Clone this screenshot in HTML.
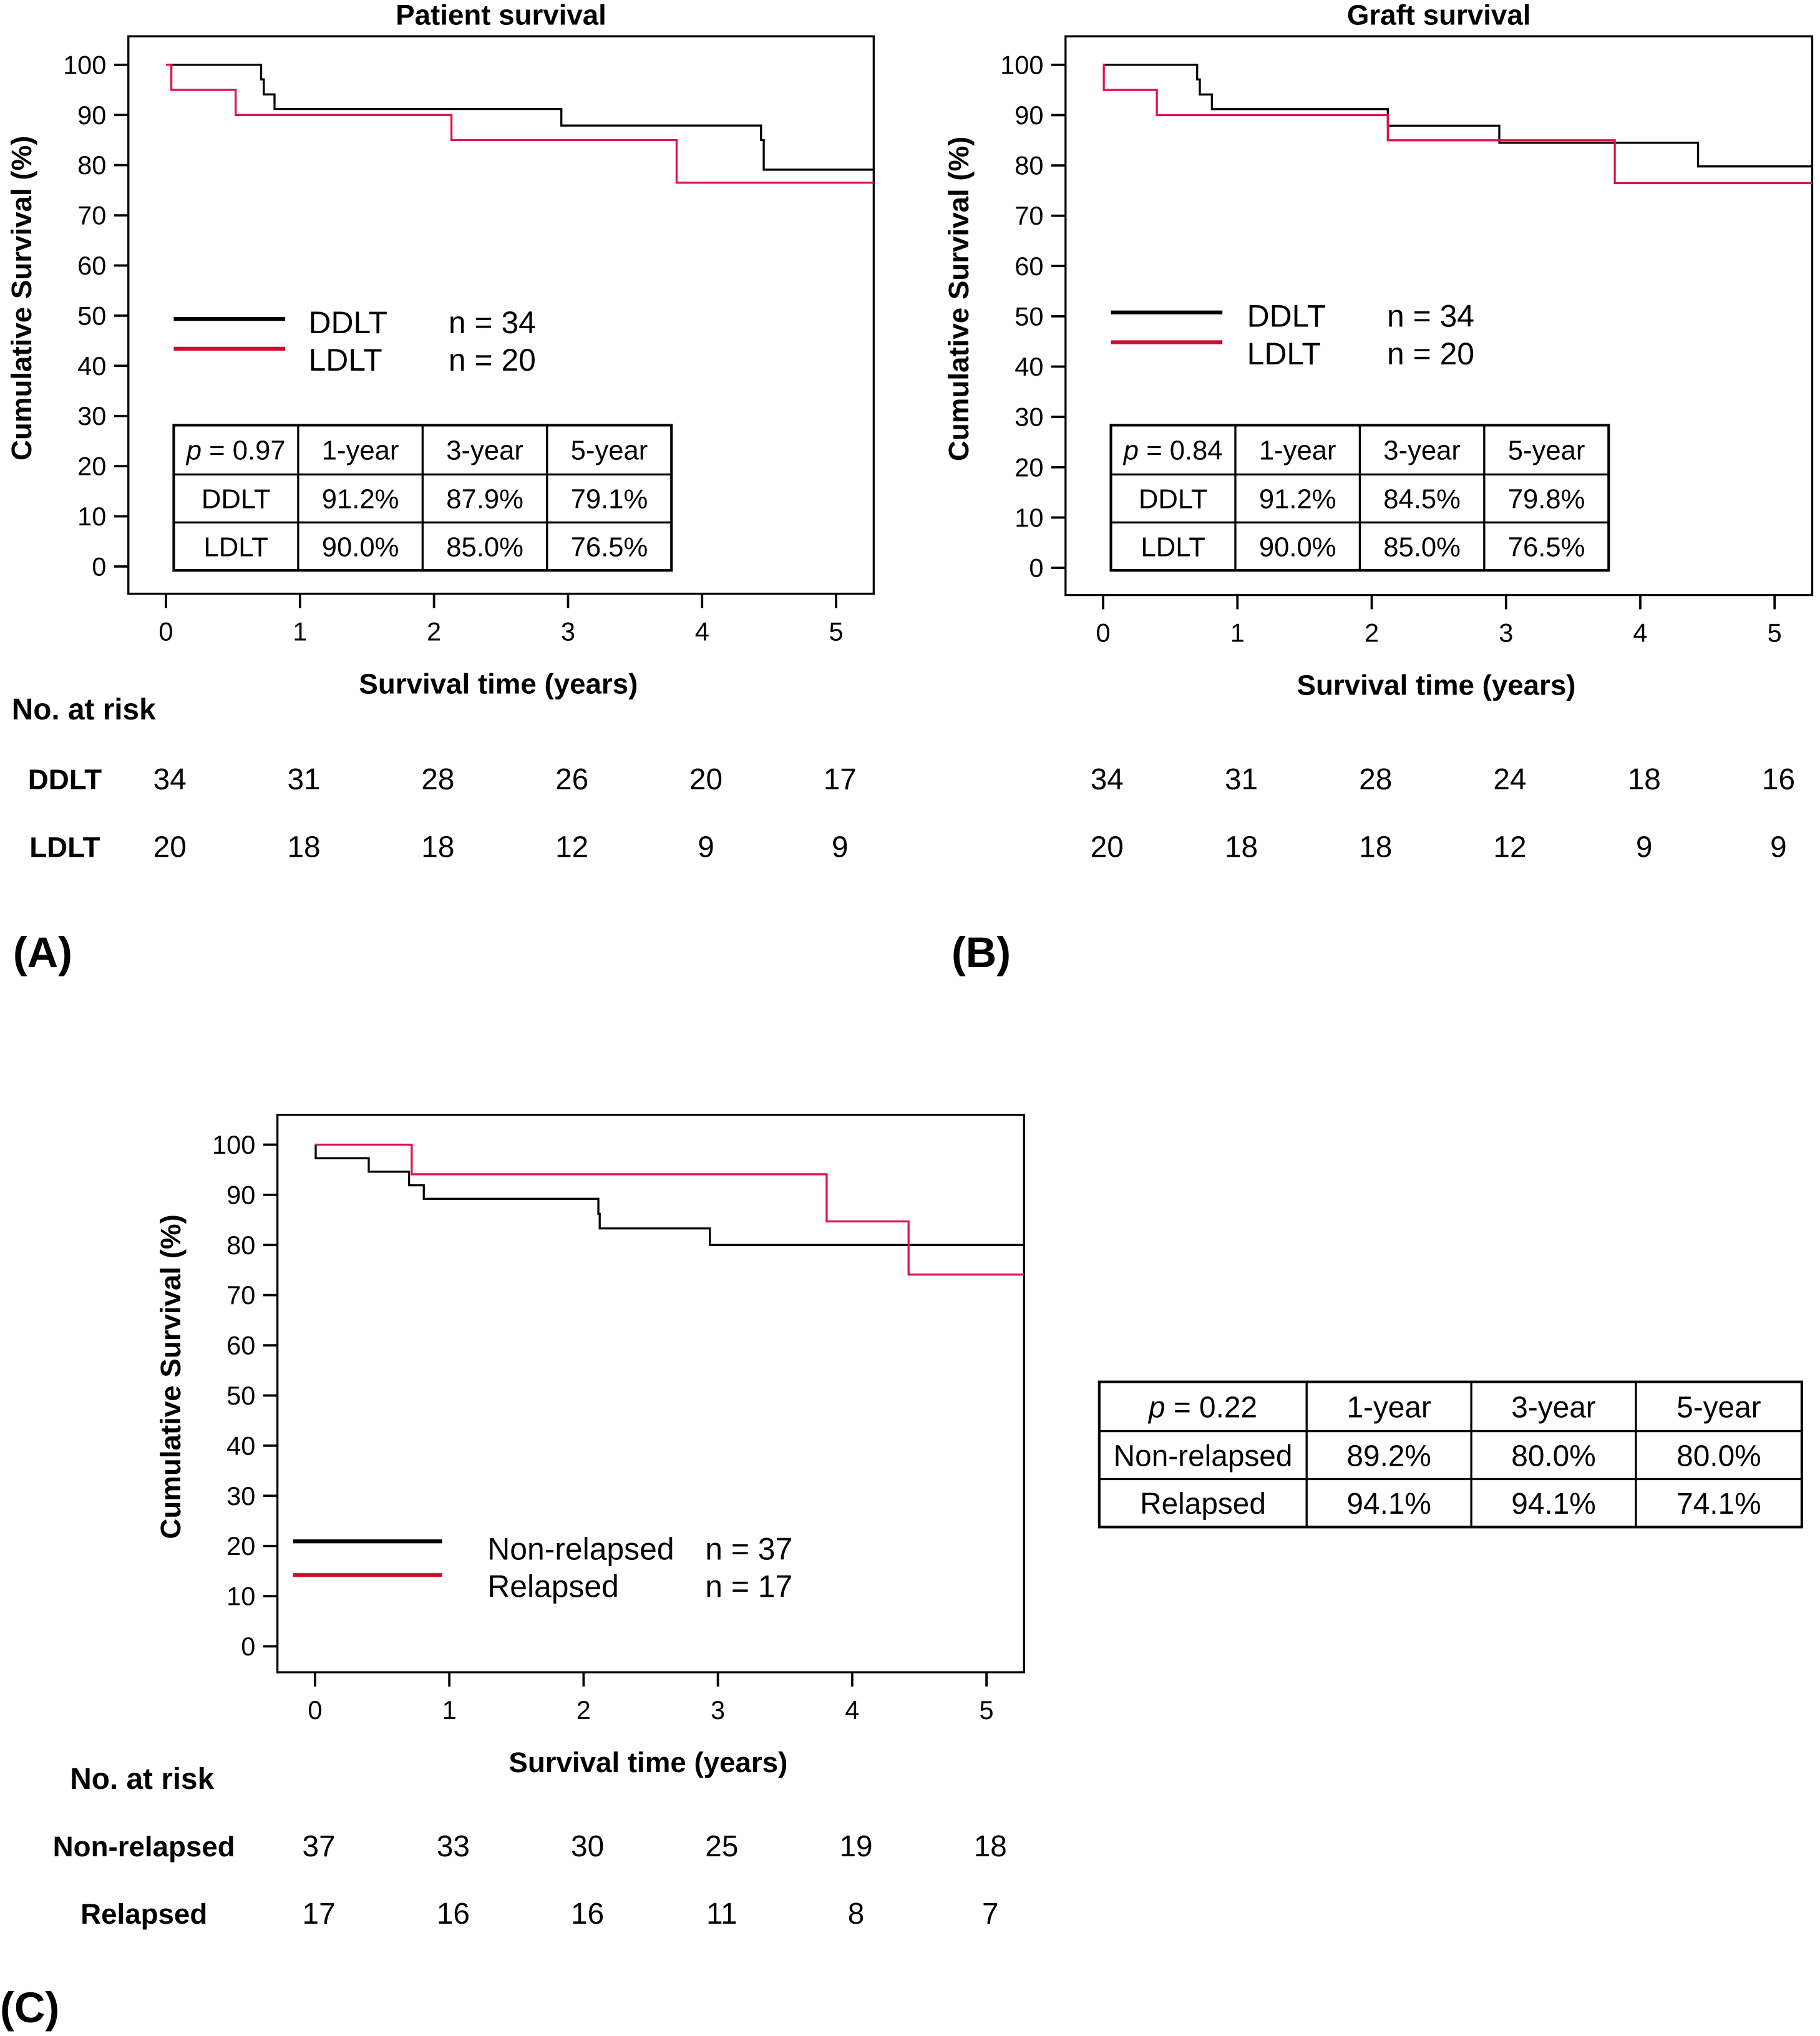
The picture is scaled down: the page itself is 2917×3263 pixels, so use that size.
<!DOCTYPE html>
<html><head><meta charset="utf-8"><style>
html,body{margin:0;padding:0;background:#fff;}
svg{display:block;font-family:"Liberation Sans",sans-serif;}
</style></head><body>
<svg id="fig" width="2917" height="3263" viewBox="0 0 1404 1570.6" xmlns="http://www.w3.org/2000/svg"></svg>
<script>
// ---- Data ----
// Panel A: patient survival (steps: [time, survival])
const aDdltTimes = [0, 0.71, 0.73, 0.81, 2.95, 4.44, 4.46];
const aDdltSurv  = [100, 97.1, 94.1, 91.2, 87.9, 85.0, 79.1];
const aLdltTimes = [0, 0.04, 0.52, 2.13, 3.81];
const aLdltSurv  = [100, 95, 90, 85, 76.5];
// Panel B: graft survival
const bDdltTimes = [0, 0.70, 0.72, 0.81, 2.12, 2.95, 4.43];
const bDdltSurv  = [100, 97.1, 94.1, 91.2, 87.9, 84.5, 79.8];
const bLdltTimes = [0, 0.005, 0.40, 2.12, 3.81];
const bLdltSurv  = [100, 95, 90, 85, 76.5];
// Panel C: relapse
const cNonTimes = [0, 0.005, 0.40, 0.70, 0.81, 2.11, 2.12, 2.94];
const cNonSurv  = [100, 97.3, 94.6, 91.9, 89.2, 86.2, 83.3, 80.0];
const cRelTimes = [0, 0.72, 3.81, 4.42];
const cRelSurv  = [100, 94.1, 84.7, 74.1];

const xTicks = [0,1,2,3,4,5];
const yTicks = [0,10,20,30,40,50,60,70,80,90,100];

const riskA1 = [34,31,28,26,20,17];
const riskA2 = [20,18,18,12,9,9];
const riskB1 = [34,31,28,24,18,16];
const riskB2 = [20,18,18,12,9,9];
const riskC1 = [37,33,30,25,19,18];
const riskC2 = [17,16,16,11,8,7];

const tableAHead = ["1-year","3-year","5-year"];
const tableARows = [["DDLT","91.2%","87.9%","79.1%"],["LDLT","90.0%","85.0%","76.5%"]];
const tableBRows = [["DDLT","91.2%","84.5%","79.8%"],["LDLT","90.0%","85.0%","76.5%"]];
const tableCRows = [["Non-relapsed","89.2%","80.0%","80.0%"],["Relapsed","94.1%","94.1%","74.1%"]];

const NS="http://www.w3.org/2000/svg";
const svg=document.getElementById('fig');
function el(tag,attrs,parent,text){const e=document.createElementNS(NS,tag);for(const k in attrs)e.setAttribute(k,attrs[k]);if(text!==undefined)e.textContent=text;(parent||svg).appendChild(e);return e;}
function txt(x,y,s,size,opts,parent){opts=opts||{};return el('text',Object.assign({x:x,y:y,'font-size':size,'text-anchor':opts.anchor||'middle','font-weight':opts.bold?'bold':'normal',fill:'#000'},opts.extra||{}),parent,s);}

function panel(cfg){
  const g=el('g',{});
  
  
  const X=t=>cfg.x0+t*(cfg.x5-cfg.x0)/5;
  const Y=v=>cfg.y0-v*(cfg.y0-cfg.y100)/100;
  const fr=el('rect',{x:cfg.fx,y:cfg.fy,width:cfg.fw,height:cfg.fh,fill:'none',stroke:'#000','stroke-width':1.6},g);
  
  
  if(cfg.title){const t=txt(cfg.fx+cfg.fw/2,19,cfg.title,22,{bold:true},g);}
  yTicks.forEach(v=>{
    el('line',{x1:cfg.fx-11,x2:cfg.fx,y1:Y(v),y2:Y(v),stroke:'#000','stroke-width':1.8},g);
    const t=txt(cfg.fx-17,Y(v)+7,String(v),20,{anchor:'end'},g);
    
  });
  xTicks.forEach(v=>{
    el('line',{x1:X(v),x2:X(v),y1:cfg.fy+cfg.fh,y2:cfg.fy+cfg.fh+11,stroke:'#000','stroke-width':1.8},g);
    const t=txt(X(v),cfg.fy+cfg.fh+36,String(v),20,{},g);
    
  });
  const xt=txt(cfg.fx+cfg.fw/2-2,cfg.fy+cfg.fh+77,'Survival time (years)',22,{bold:true},g);
  
  const yx=cfg.fx-75, yy=cfg.fy+cfg.fh/2-13;
  const yt=txt(yx,yy,'Cumulative Survival (%)',22,{bold:true,extra:{transform:`rotate(-90 ${yx} ${yy})`}},g);
  
  cfg.series.forEach(s=>{
    let d=`M${X(s.t[0])},${Y(s.v[0])}`;
    for(let i=1;i<s.t.length;i++){d+=` H${X(s.t[i])} V${Y(s.v[i])}`;}
    d+=` H${cfg.fx+cfg.fw}`;
    const p=el('path',{d:d,fill:'none',stroke:s.color,'stroke-width':1.6},g);
    
    
  });
  cfg.legend.forEach((L,i)=>{
    const y=cfg.ly+i*cfg.lgap;
    const ty=cfg.ly+cfg.toff+i*cfg.tgap;
    const ln=el('line',{x1:cfg.lx1,x2:cfg.lx2,y1:y,y2:y,stroke:L.color,'stroke-width':3},g);
    
    const a=txt(cfg.ltx,ty,L.label,24,{anchor:'start'},g);
    
    const b=txt(cfg.lnx,ty,L.n,24,{anchor:'start'},g);
    
  });
  return {g,X};
}

function table(x,cols,rows,pval,head,body,fs,name){
  const g=el('g',{});
  
  
  el('rect',{x:cols[0],y:rows[0],width:cols[cols.length-1]-cols[0],height:rows[rows.length-1]-rows[0],fill:'none',stroke:'#000','stroke-width':2},g);
  cols.slice(1,-1).forEach(c=>el('line',{x1:c,x2:c,y1:rows[0],y2:rows[rows.length-1],stroke:'#000','stroke-width':1.6},g));
  rows.slice(1,-1).forEach(r=>el('line',{x1:cols[0],x2:cols[cols.length-1],y1:r,y2:r,stroke:'#000','stroke-width':1.6},g));
  const cx=i=>(cols[i]+cols[i+1])/2, cy=j=>(rows[j]+rows[j+1])/2+fs*0.36;
  const p=el('text',{x:cx(0),y:cy(0),'font-size':fs,'text-anchor':'middle'},g);
  el('tspan',{'font-style':'italic'},p,'p');
  el('tspan',{},p,' = '+pval);
  head.forEach((h,i)=>txt(cx(i+1),cy(0),h,fs,{},g));
  body.forEach((r,j)=>r.forEach((c,i)=>txt(cx(i),cy(j+1),c,fs,{},g)));
}

function risk(X,y1,y2,r1,r2,lab1,lab2,labx,headY,headX){
  const g=el('g',{});
  
  
  if(headY){txt(headX,headY,'No. at risk',23,{bold:true,anchor:'start'},g);}
  if(lab1){txt(labx,y1,lab1,22,{bold:true},g);txt(labx,y2,lab2,22,{bold:true},g);}
  r1.forEach((v,i)=>txt(X(xTicks[i])+3,y1,String(v),23,{},g));
  r2.forEach((v,i)=>txt(X(xTicks[i])+3,y2,String(v),23,{},g));
}

const A=panel({name:'panel-a-patient-survival',title:'Patient survival',fx:99,fy:28,fw:575,fh:430,x0:128,x5:645,y0:437,y100:50,
  series:[{t:aDdltTimes,v:aDdltSurv,color:'#000',name:'ddlt-curve'},{t:aLdltTimes,v:aLdltSurv,color:'#e0134a',name:'ldlt-curve'}],
  legend:[{label:'DDLT',n:'n = 34',color:'#000'},{label:'LDLT',n:'n = 20',color:'#c8102e'}],ly:246,lgap:23,toff:11,tgap:29,lx1:134,lx2:220,ltx:238,lnx:346});
table(0,[134,230,326,422,518],[328,366,403,440],'0.97',tableAHead,tableARows,21,'table-a');
risk(A.X,609,661,riskA1,riskA2,'DDLT','LDLT',50,555,9);

const B=panel({name:'panel-b-graft-survival',title:'Graft survival',fx:822,fy:28,fw:576,fh:431,x0:851,x5:1369,y0:438,y100:50,
  series:[{t:bDdltTimes,v:bDdltSurv,color:'#000',name:'ddlt-curve'},{t:bLdltTimes,v:bLdltSurv,color:'#e0134a',name:'ldlt-curve'}],
  legend:[{label:'DDLT',n:'n = 34',color:'#000'},{label:'LDLT',n:'n = 20',color:'#c8102e'}],ly:241,lgap:23,toff:11,tgap:29,lx1:857,lx2:943,ltx:962,lnx:1070});
table(0,[857,953,1049,1145,1241],[328,366,403,440],'0.84',tableAHead,tableBRows,21,'table-b');
risk(B.X,609,661,riskB1,riskB2,null,null,0,null,0);

const C=panel({name:'panel-c-relapse',title:null,fx:214,fy:860,fw:576,fh:430,x0:243,x5:761,y0:1270,y100:883,
  series:[{t:cNonTimes,v:cNonSurv,color:'#000',name:'non-relapsed-curve'},{t:cRelTimes,v:cRelSurv,color:'#e0134a',name:'relapsed-curve'}],
  legend:[{label:'Non-relapsed',n:'n = 37',color:'#000'},{label:'Relapsed',n:'n = 17',color:'#c8102e'}],ly:1189,lgap:26,toff:14,tgap:29,lx1:226,lx2:341,ltx:376,lnx:544});
table(0,[848,1008,1135,1262,1390],[1066,1104,1141,1178],'0.22',tableAHead,tableCRows,23,'table-c');
risk(C.X,1432,1484,riskC1,riskC2,'Non-relapsed','Relapsed',111,1380,54);

[['(A)',10,746],['(B)',734,746],['(C)',0,1560]].forEach(a=>{
  const t=txt(a[1],a[2],a[0],33,{bold:true,anchor:'start'});
  
  
});
</script>
</body></html>
